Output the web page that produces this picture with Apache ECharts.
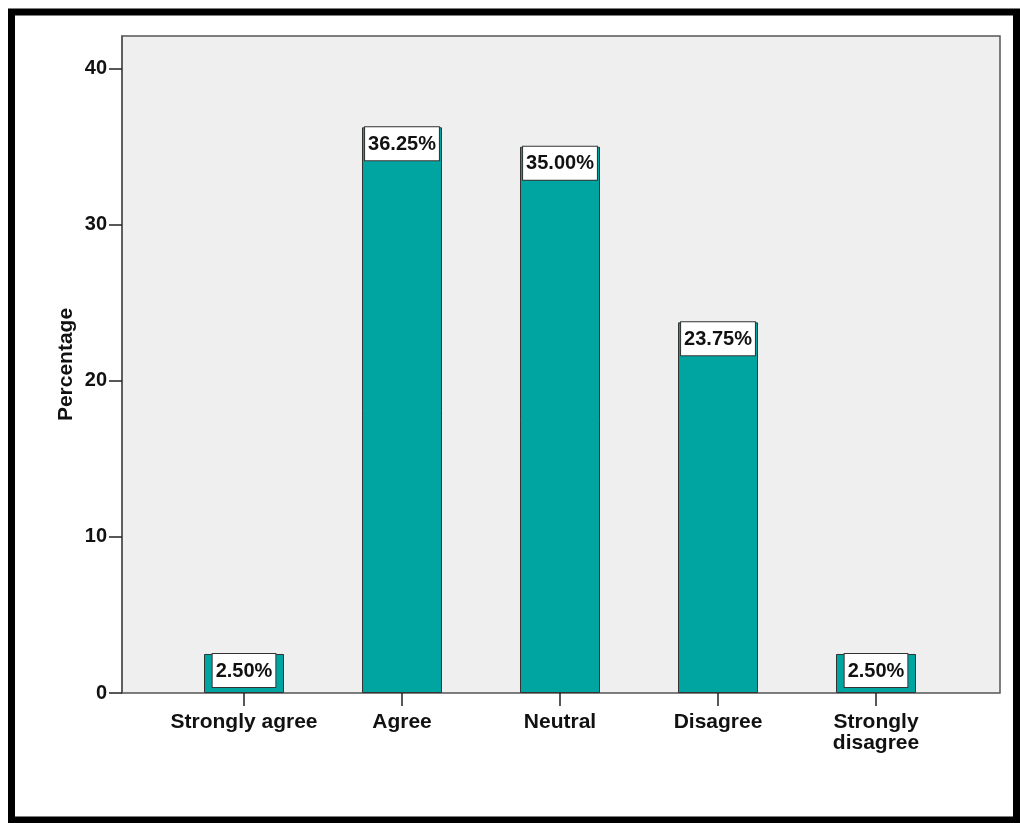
<!DOCTYPE html>
<html>
<head>
<meta charset="utf-8">
<script src="https://cdn.jsdelivr.net/npm/echarts@6/dist/echarts.min.js"></script>
<style>
  html, body { margin: 0; padding: 0; background: #fff; }
  #chart { width: 1020px; height: 823px; }
</style>
</head>
<body>
<div id="chart"></div>
<script>
// Response categories and their share of answers (%)
const categories = ['Strongly agree', 'Agree', 'Neutral', 'Disagree', 'Strongly\ndisagree'];
const percentages = [2.5, 36.25, 35.0, 23.75, 2.5];
const yTicks = [0, 10, 20, 30, 40];

const FONT = 'Liberation Sans, Arial, Helvetica, sans-serif';
const Y_MAX = 42.1;

const chart = echarts.init(document.getElementById('chart'), null, { renderer: 'canvas' });

chart.setOption({
  animation: false,
  backgroundColor: '#ffffff',
  graphic: [{
    type: 'rect',
    z: 100,
    shape: { x: 11.5, y: 12, width: 1005, height: 808 },
    style: { fill: 'none', stroke: '#000', lineWidth: 7 }
  }],
  grid: [
    // frame + grey plotting area carrying the value axis
    { left: 122, top: 36, width: 878, height: 657, show: true,
      backgroundColor: '#efefef', borderColor: '#555', borderWidth: 1.5 },
    // inner band area for the category bars
    { left: 165, top: 36, width: 790, height: 657 }
  ],
  xAxis: [
    { gridIndex: 0, type: 'value', show: false, min: 0, max: 1 },
    {
      gridIndex: 1, type: 'category', data: categories, boundaryGap: true,
      axisLine: { show: false },
      axisTick: { show: true, alignWithLabel: true, length: 13,
                  lineStyle: { color: '#222', width: 1.5 } },
      axisLabel: { margin: 19, color: '#111', fontFamily: FONT, fontWeight: 'bold',
                   fontSize: 21, lineHeight: 21, interval: 0 }
    }
  ],
  yAxis: [
    {
      gridIndex: 0, type: 'value', min: 0, max: Y_MAX,
      name: 'Percentage', nameLocation: 'middle', nameGap: 45, nameRotate: 90,
      nameMoveOverlap: false,
      nameTextStyle: { color: '#111', fontFamily: FONT, fontWeight: 'bold', fontSize: 21 },
      splitLine: { show: false },
      axisLine: { show: true, lineStyle: { color: '#555', width: 1.5 } },
      axisTick: { show: true, length: 13, customValues: yTicks,
                  lineStyle: { color: '#222', width: 1.5 } },
      axisLabel: { margin: 15, customValues: yTicks, color: '#111',
                   fontFamily: FONT, fontWeight: 'bold', fontSize: 20 }
    },
    { gridIndex: 1, type: 'value', min: 0, max: Y_MAX, show: false, splitLine: { show: false } }
  ],
  series: [{
    type: 'bar',
    xAxisIndex: 1,
    yAxisIndex: 1,
    data: percentages,
    barWidth: 80,
    itemStyle: { color: '#00a5a1', borderColor: '#333', borderWidth: 1 },
    label: {
      show: true,
      position: 'insideTop',
      distance: 0,
      formatter: p => p.value.toFixed(2) + '%',
      color: '#111',
      fontFamily: FONT,
      fontWeight: 'bold',
      fontSize: 20,
      backgroundColor: '#ffffff',
      borderColor: '#333',
      borderWidth: 1,
      padding: [7, 3, 6, 3]
    }
  }]
});
</script>
</body>
</html>
